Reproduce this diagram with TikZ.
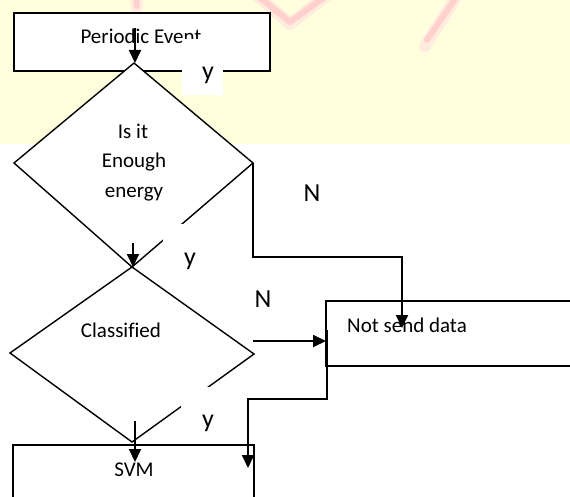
\documentclass[tikz,border=0pt]{standalone}
\usepackage{fontspec}
\setmainfont[Ligatures=NoCommon]{Carlito}
\usetikzlibrary{arrows.meta}
\definecolor{bgyellow}{RGB}{255,255,221}
\definecolor{blobpink}{RGB}{255,208,204}
\definecolor{blobhalo}{RGB}{255,236,222}
\begin{document}
\begin{tikzpicture}[x=1pt,y=-1pt,
  shapeline/.style={draw=black,line width=1.4pt,fill=white,line join=miter},
  conn/.style={draw=black,line width=2pt,-{Triangle[width=12pt,length=13pt]}},
  txt/.style={font=\fontsize{21}{25}\selectfont,inner sep=0pt,anchor=base},
  lbl/.style={font=\fontsize{26}{30}\selectfont,inner sep=0pt,anchor=base},
  cover/.style={fill=white,draw=none},
  halo/.style={draw=blobhalo,line width=12pt,line cap=round,line join=round},
  blob/.style={draw=blobpink,line width=6pt,line cap=round,line join=round}]
\useasboundingbox (0,0) rectangle (570,497);
\clip (0,0) rectangle (570,497);
% background
\fill[white] (0,0) rectangle (570,497);
\fill[bgyellow] (0,0) rectangle (570,144);
\draw[halo] (136,-4) -- (137,8);
\draw[halo] (258,-4) -- (290,24) -- (326,-4);
\draw[halo] (457,-4) -- (425,46);
\draw[blob] (136,-4) -- (137,6);
\draw[blob] (258,-4) -- (290,22) -- (326,-4);
\draw[blob] (457,-4) -- (427,40);

% coordinates
\coordinate (peNW) at (14,13);
\coordinate (peSE) at (270,71);
\coordinate (d1t) at (134,63);
\coordinate (d1l) at (14,163);
\coordinate (d1r) at (253,163);
\coordinate (d1b) at (132,267);
\coordinate (d2t) at (132,267);
\coordinate (d2l) at (10,353);
\coordinate (d2r) at (254,354);
\coordinate (d2b) at (132,442);
\coordinate (nsNW) at (326,301);
\coordinate (nsSE) at (590,366);
\coordinate (svNW) at (13,445);
\coordinate (svSE) at (254,520);

% shapes
\draw[shapeline] (peNW) rectangle (peSE);
\node[txt] (pet) at (141,44) {Periodic Event};
\draw[shapeline] (d1t) -- (d1r) -- (d1b) -- (d1l) -- cycle;
\node[txt] (d1a) at (133,139) {Is it};
\node[txt] (d1b2) at (134,168) {Enough};
\node[txt] (d1c) at (134,197) {energy};
\draw[shapeline] (d2t) -- (d2r) -- (d2b) -- (d2l) -- cycle;
\node[txt] (d2x) at (121,337) {Classified};
\draw[shapeline] (nsNW) rectangle (nsSE);
\node[txt] (nst) at (407,332) {Not send data};
\draw[shapeline] (svNW) rectangle (svSE);
\node[txt] (svt) at (134,476) {SVM};

% label covers and labels
\fill[cover] (182,39) rectangle (223,95);
\fill[cover] (163,224) rectangle (222,282);
\fill[cover] (181,387) rectangle (240,440);
\node[lbl] (y1) at (208,80) {y};
\node[lbl] (y2) at (190,265) {y};
\node[lbl] (y3) at (208,427) {y};
\node[lbl] (n1) at (312,202) {N};
\node[lbl] (n2) at (263,307) {N};

% connector coordinates
\coordinate (a1s) at (135,28);
\coordinate (a1e) at (135,63);
\coordinate (a2s) at (133,243);
\coordinate (a2e) at (133,267);
\coordinate (a3s) at (135,421);
\coordinate (a3e) at (135,462);
\coordinate (c1a) at (253,257);
\coordinate (c1b) at (402,257);
\coordinate (c1e) at (402,328);
\coordinate (c2s) at (253,341);
\coordinate (c2e) at (326,341);
\coordinate (c3s) at (327,330);
\coordinate (c3a) at (327,399);
\coordinate (c3b) at (248,399);
\coordinate (c3e) at (248,468);

% connectors
\draw[conn] (a1s) -- (a1e);
\draw[conn] (a2s) -- (a2e);
\draw[conn] (a3s) -- (a3e);
\draw[conn] (d1r) -- (c1a) -- (c1b) -- (c1e);
\draw[conn] (c2s) -- (c2e);
\draw[conn] (c3s) -- (c3a) -- (c3b) -- (c3e);
\end{tikzpicture}
\end{document}
